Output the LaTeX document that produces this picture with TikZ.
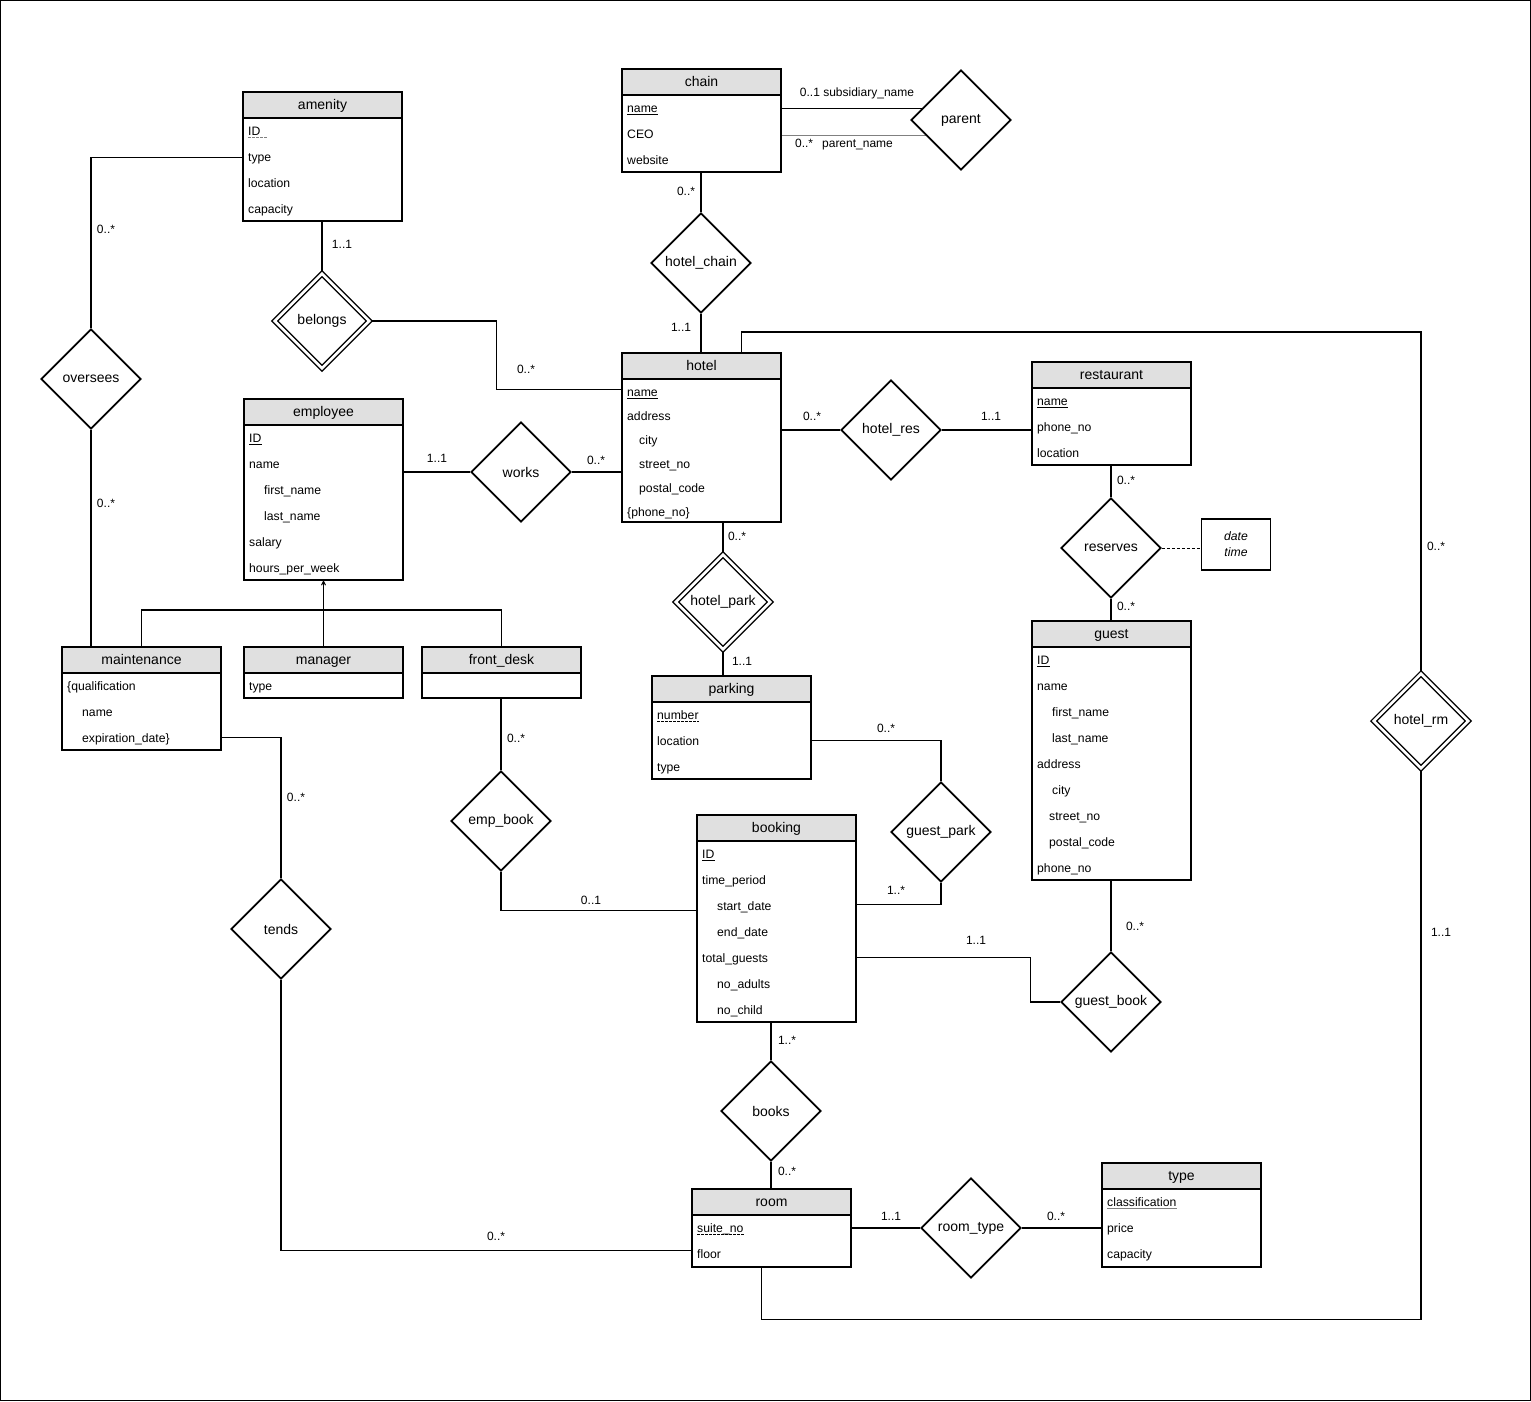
\documentclass[tikz,border=0pt]{standalone}
\usepackage{fontspec}
\setmainfont{Liberation Sans}
\usetikzlibrary{shapes.geometric,arrows.meta,calc}
\pgfdeclarelayer{bg}
\pgfsetlayers{bg,main}
\definecolor{hdrgray}{RGB}{224,224,224}
\definecolor{linegray}{RGB}{128,128,128}
\tikzset{
  conn/.style={line width=1.1pt},
  ebox/.style={draw, line width=1.1pt, inner sep=0pt, outer sep=0pt, anchor=north west},
  ehead/.style={draw, fill=hdrgray, line width=1.1pt, inner sep=0pt, outer sep=0pt, anchor=north west, minimum height=26pt, text height=10.5pt, text depth=2pt, font=\fontsize{14}{16}\selectfont},
  atxt/.style={inner sep=0pt, anchor=base west, font=\fontsize{12.2}{14}\selectfont},
  card/.style={inner sep=0pt, font=\fontsize{12}{14}\selectfont},
  rel/.style={diamond, draw, fill=white, line width=1.8pt, aspect=1, inner sep=0pt, minimum width=100pt, minimum height=100pt, font=\fontsize{14}{16}\selectfont},
  wrel/.style={diamond, draw, fill=white, line width=1.4pt, double, double distance=2.6pt, aspect=1, inner sep=0pt, minimum width=95pt, minimum height=95pt, font=\fontsize{14}{16}\selectfont},
  uline/.style={line width=0.9pt},
  duline/.style={line width=0.9pt, dash pattern=on 2.5pt off 1.5pt},
}
\newcommand{\ent}[6]{%
  \node[ehead, minimum width=#4pt] (#1-h) at (#2,#3) {#6};
  \node[ebox, minimum width=#4pt, minimum height=#5pt] (#1) at (#2,#3) {};
}
\newcommand{\att}[4]{\node[atxt] (#1) at (#2,#3) {#4};}
\newcommand{\ul}[2][]{\draw[uline,#1] ([yshift=-2.2pt]#2.base west) -- ([yshift=-2.2pt]#2.base east);}
\newcommand{\dul}[2][]{\draw[duline,#1] ([yshift=-2.2pt]#2.base west) -- ([yshift=-2.2pt]#2.base east);}
\begin{document}
\begin{tikzpicture}[x=1pt,y=-1pt]
\useasboundingbox (0,0) rectangle (1531,1401);
\draw[line width=1pt] (0.5,0.5) rectangle (1530.5,1400.5);

% ---------------- entities ----------------
\ent{amenity}{243}{92}{159}{129}{amenity}
\att{amID}{248}{135}{ID}
\att{amtype}{248}{161}{type}
\att{amloc}{248}{187}{location}
\att{amcap}{248}{213}{capacity}
\draw[duline, linegray] ([yshift=-2.2pt]amID.base west) -- ([yshift=-2.2pt,xshift=6pt]amID.base east);

\ent{chain}{622}{69}{159}{103}{chain}
\att{chname}{627}{112}{name}
\att{chceo}{627}{138}{CEO}
\att{chweb}{627}{164}{website}
\ul{chname}

\ent{hotel}{622}{353}{159}{169}{hotel}
\att{htname}{627}{396}{name}
\att{htaddr}{627}{420}{address}
\att{htcity}{639}{444}{city}
\att{htstreet}{639}{468}{street\_no}
\att{htpostal}{639}{492}{postal\_code}
\att{htphone}{627}{516}{\{phone\_no\}}
\ul{htname}

\ent{restaurant}{1032}{362}{159}{103}{restaurant}
\att{rsname}{1037}{405}{name}
\att{rsphone}{1037}{431}{phone\_no}
\att{rsloc}{1037}{457}{location}
\ul{rsname}

\ent{employee}{244}{399}{159}{181}{employee}
\att{emID}{249}{442}{ID}
\att{emname}{249}{468}{name}
\att{emfirst}{264}{494}{first\_name}
\att{emlast}{264}{520}{last\_name}
\att{emsal}{249}{546}{salary}
\att{emhours}{249}{572}{hours\_per\_week}
\ul{emID}

\ent{maintenance}{62}{647}{159}{103}{maintenance}
\att{mtqual}{67}{690}{\{qualification}
\att{mtname}{82}{716}{name}
\att{mtexp}{82}{742}{expiration\_date\}}

\ent{manager}{244}{647}{159}{51}{manager}
\att{mgtype}{249}{690}{type}

\ent{frontdesk}{422}{647}{159}{51}{front\_desk}

\ent{parking}{652}{676}{159}{103}{parking}
\att{pknum}{657}{719}{number}
\att{pkloc}{657}{745}{location}
\att{pktype}{657}{771}{type}
\dul{pknum}

\ent{guest}{1032}{621}{159}{259}{guest}
\att{gsID}{1037}{664}{ID}
\att{gsname}{1037}{690}{name}
\att{gsfirst}{1052}{716}{first\_name}
\att{gslast}{1052}{742}{last\_name}
\att{gsaddr}{1037}{768}{address}
\att{gscity}{1052}{794}{city}
\att{gsstreet}{1049}{820}{street\_no}
\att{gspostal}{1049}{846}{postal\_code}
\att{gsphone}{1037}{872}{phone\_no}
\ul{gsID}

\ent{booking}{697}{815}{159}{207}{booking}
\att{bkID}{702}{858}{ID}
\att{bktime}{702}{884}{time\_period}
\att{bkstart}{717}{910}{start\_date}
\att{bkend}{717}{936}{end\_date}
\att{bktotal}{702}{962}{total\_guests}
\att{bkadults}{717}{988}{no\_adults}
\att{bkchild}{717}{1014}{no\_child}
\ul{bkID}

\ent{room}{692}{1189}{159}{78}{room}
\att{rmsuite}{697}{1232}{suite\_no}
\att{rmfloor}{697}{1258}{floor}
\dul{rmsuite}

\ent{type}{1102}{1163}{159}{104}{type}
\att{tpclass}{1107}{1206}{classification}
\att{tpprice}{1107}{1232}{price}
\att{tpcap}{1107}{1258}{capacity}
\ul[linegray]{tpclass}

\node[draw, line width=1.1pt, minimum width=69pt, minimum height=51pt, inner sep=0pt, align=center,
      font=\fontsize{12.2}{16}\selectfont\itshape] (datetime) at (1236,544.5) {date\\time};

% ---------------- relationships ----------------
\node[rel]  (parent)     at (961,120)  {parent};
\node[rel]  (hotelchain) at (701,263)  {hotel\_chain};
\node[wrel] (belongs)    at (322,321)  {belongs};
\node[rel]  (oversees)   at (91,379)   {oversees};
\node[rel]  (works)      at (521,472)  {works};
\node[rel]  (hotelres)   at (891,430)  {hotel\_res};
\node[rel]  (reserves)   at (1111,548) {reserves};
\node[wrel] (hotelpark)  at (723,602)  {hotel\_park};
\node[wrel] (hotelrm)    at (1421,721) {hotel\_rm};
\node[rel]  (empbook)    at (501,821)  {emp\_book};
\node[rel]  (guestpark)  at (941,832)  {guest\_park};
\node[rel]  (tends)      at (281,929)  {tends};
\node[rel]  (guestbook)  at (1111,1002) {guest\_book};
\node[rel]  (books)      at (771,1111) {books};
\node[rel]  (roomtype)   at (971,1228) {room\_type};

% ---------------- connectors ----------------
\begin{pgfonlayer}{bg}
\draw[conn] (chain.east |- chname) -- (parent.center |- chname);
\draw[conn, linegray] ($(chain.east |- chceo)+(0,2)$) -- ($(parent.center |- chceo)+(0,2)$);
\draw[conn] (hotelchain.north) -- (hotelchain.north |- chain.south);
\draw[conn] (hotelchain.south) -- (hotelchain.south |- hotel.north);
\draw[conn] (belongs.north) -- (belongs.north |- amenity.south);
\draw[conn] (belongs.east) -- ++(126,0) |- ($(hotel.west |- htname)+(0,-3)$);
\draw[conn] ($(amenity.west |- amtype)+(0,-1)$) -| (oversees.north);
\draw[conn] (oversees.south) -- (oversees.south |- maintenance.north);
\draw[conn] (employee.east |- works) -- (works.west);
\draw[conn] (works.east) -- (hotel.west |- works);
\draw[conn] (hotel.east |- hotelres) -- (hotelres.west);
\draw[conn] (hotelres.east) -- (restaurant.west |- hotelres);
\draw[conn] (reserves.north) -- (reserves.north |- restaurant.south);
\draw[conn] (reserves.south) -- (reserves.south |- guest.north);
\draw[line width=0.9pt, dash pattern=on 3pt off 2pt] (reserves.east) -- (datetime.west |- reserves.east);
\draw[conn] (hotelpark.north) -- (hotelpark.north |- hotel.south);
\draw[conn] (hotelpark.south) -- (hotelpark.south |- parking.north);
% ISA hierarchy
\coordinate (isa) at ($(manager.north)+(0,-37)$);
\draw[conn] (maintenance.north) |- (isa) -| (frontdesk.north);
\draw[conn, -{Straight Barb[length=4pt,width=4pt]}] (manager.north) -- (manager.north |- employee.south);
% hotel_rm
\draw[conn] ($(hotel.north)+(40,0)$) -- ++(0,-21) -| (hotelrm.north);
\draw[conn] (hotelrm.south) -- ++(0,550) -| ($(room.south)+(-10,0)$);
% bookings
\draw[conn] (empbook.north) -- (empbook.north |- frontdesk.south);
\draw[conn] (empbook.south) |- ($(booking.west |- bkstart)+(0,4)$);
\draw[conn] (parking.east |- pkloc) -| (guestpark.north);
\draw[conn] (guestpark.south) |- ($(booking.east |- bkstart)+(0,-2)$);
\draw[conn] (guestbook.north) -- (guestbook.north |- guest.south);
\draw[conn] (guestbook.west) -- ++(-30,0) |- ($(booking.east |- bktotal)+(0,-1)$);
\draw[conn] (books.north) -- (books.north |- booking.south);
\draw[conn] (books.south) -- (books.south |- room.north);
\draw[conn] (room.east |- roomtype) -- (roomtype.west);
\draw[conn] (roomtype.east) -- (type.west |- roomtype);
\draw[conn] ($(maintenance.east |- mtexp)+(0,-1)$) -| (tends.north);
\draw[conn] (tends.south) |- ($(room.west |- rmfloor)+(0,-3)$);
\end{pgfonlayer}

% ---------------- cardinality labels ----------------
\node[card] (c01) at (857,93)   {0..1 subsidiary\_name};
\node[card] (c02) at (844,145)  {0..*\hspace{9pt}parent\_name};
\node[card] (c03) at (686,191)  {0..*};
\node[card] (c04) at (681,327)  {1..1};
\node[card] (c05) at (342,244)  {1..1};
\node[card] (c06) at (526,369)  {0..*};
\node[card] (c07) at (106,229)  {0..*};
\node[card] (c08) at (106,503)  {0..*};
\node[card] (c09) at (437,458)  {1..1};
\node[card] (c10) at (596,460)  {0..*};
\node[card] (c11) at (812,416)  {0..*};
\node[card] (c12) at (991,416)  {1..1};
\node[card] (c13) at (1126,480) {0..*};
\node[card] (c14) at (1126,606) {0..*};
\node[card] (c15) at (737,536)  {0..*};
\node[card] (c16) at (742,661)  {1..1};
\node[card] (c17) at (1436,546) {0..*};
\node[card] (c18) at (1441,932) {1..1};
\node[card] (c19) at (516,738)  {0..*};
\node[card] (c20) at (591,900)  {0..1};
\node[card] (c21) at (886,728)  {0..*};
\node[card] (c22) at (896,890)  {1..*};
\node[card] (c23) at (1135,926) {0..*};
\node[card] (c24) at (976,940)  {1..1};
\node[card] (c25) at (787,1040) {1..*};
\node[card] (c26) at (787,1171) {0..*};
\node[card] (c27) at (891,1216) {1..1};
\node[card] (c28) at (1056,1216) {0..*};
\node[card] (c29) at (296,797)  {0..*};
\node[card] (c30) at (496,1236) {0..*};
\end{tikzpicture}
\end{document}
